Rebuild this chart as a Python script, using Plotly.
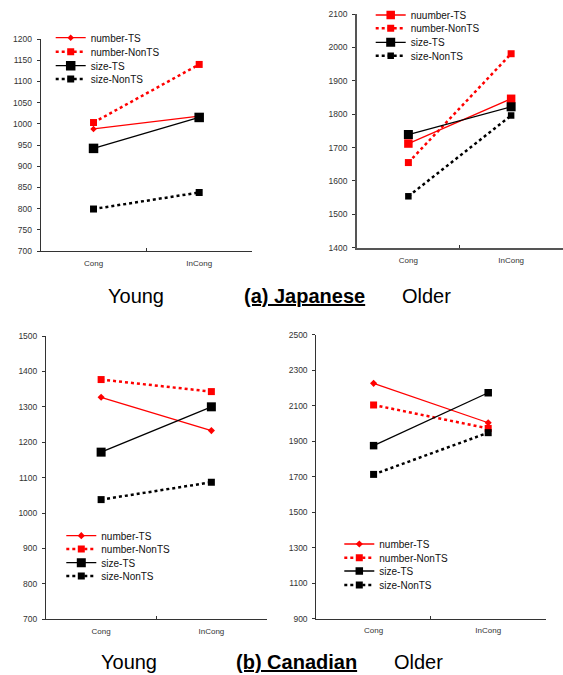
import plotly.graph_objects as go

W, H = 563, 675

categories = ["Cong", "InCong"]
series_names = ["number-TS", "number-NonTS", "size-TS", "size-NonTS"]
series_names_jp_older = ["nuumber-TS", "number-NonTS", "size-TS", "size-NonTS"]

# (a) Japanese - Young
jp_young_number_ts = [988, 1018]
jp_young_number_nonts = [1003, 1140]
jp_young_size_ts = [942, 1015]
jp_young_size_nonts = [799, 838]

# (a) Japanese - Older
jp_older_number_ts = [1712, 1846]
jp_older_number_nonts = [1655, 1981]
jp_older_size_ts = [1739, 1822]
jp_older_size_nonts = [1554, 1796]

# (b) Canadian - Young
ca_young_number_ts = [1327, 1233]
ca_young_number_nonts = [1377, 1343]
ca_young_size_ts = [1172, 1300]
ca_young_size_nonts = [1038, 1087]

# (b) Canadian - Older
ca_older_number_ts = [2226, 2004]
ca_older_number_nonts = [2104, 1972]
ca_older_size_ts = [1875, 2173]
ca_older_size_nonts = [1713, 1948]

y_ranges = [[700, 1200], [1400, 2100], [700, 1500], [900, 2500]]
y_dticks = [50, 100, 100, 200]

RED = "#FF0000"
BLACK = "#000000"


def px_x(p):
    return p / W


def px_y(p):
    return 1 - p / H


# panel plot areas in pixels: (x0, x1, ytop, ybottom)
panels = [
    (40.7, 252.0, 39.0, 251.0),
    (357.0, 562.5, 14.0, 247.7),
    (46.0, 266.5, 336.0, 619.3),
    (316.3, 545.5, 334.7, 618.7),
]
axis_styles = [("#333", 1), ("#555", 1.6), ("#333", 1), ("#333", 1)]

# legend rows: (line start x, [row center y...])
legend_rows = [
    (57.7, [37.7, 51.7, 65.7, 79.0]),
    (377.7, [15.0, 28.3, 42.3, 55.7]),
    (68.3, [535.7, 549.0, 562.7, 576.0]),
    (346.3, [544.0, 557.7, 571.0, 585.0]),
]

data = [
    [jp_young_number_ts, jp_young_number_nonts, jp_young_size_ts, jp_young_size_nonts],
    [jp_older_number_ts, jp_older_number_nonts, jp_older_size_ts, jp_older_size_nonts],
    [ca_young_number_ts, ca_young_number_nonts, ca_young_size_ts, ca_young_size_nonts],
    [ca_older_number_ts, ca_older_number_nonts, ca_older_size_ts, ca_older_size_nonts],
]

# marker styles per panel: (symbol, size) for each series
marker_specs = [
    [("diamond", 5), ("square", 7), ("square", 9.5), ("square", 7)],
    [("square", 8.5), ("square", 7), ("square", 9), ("square", 6.5)],
    [("diamond", 5.5), ("square", 7), ("square", 9), ("square", 7)],
    [("diamond", 5.5), ("square", 7), ("square", 7.5), ("square", 7)],
]
colors = [RED, RED, BLACK, BLACK]
dashes = ["solid", "dot", "solid", "dot"]
widths = [1.3, 2.5, 1.3, 2.5]

fig = go.Figure()
layout = dict(
    width=W, height=H,
    margin=dict(l=0, r=0, t=0, b=0, autoexpand=False),
    paper_bgcolor="white", plot_bgcolor="white",
    font=dict(family="Liberation Sans, Arial, sans-serif", color="#222"),
    showlegend=True,
)

leg_idx = 0
for p in range(4):
    xa = "x" if p == 0 else f"x{p+1}"
    ya = "y" if p == 0 else f"y{p+1}"
    names = series_names_jp_older if p == 1 else series_names
    lx, rows = legend_rows[p]
    for s in range(4):
        leg_idx += 1
        lname = "legend" if leg_idx == 1 else f"legend{leg_idx}"
        sym, size = marker_specs[p][s]
        fig.add_trace(go.Scatter(
            x=categories, y=data[p][s], name=names[s],
            mode="lines+markers",
            line=dict(color=colors[s], width=widths[s], dash=dashes[s]),
            marker=dict(symbol=sym, size=size, color=colors[s],
                        line=dict(width=0)),
            xaxis=xa, yaxis=ya, legend=lname,
            cliponaxis=False,
        ))
        layout[lname] = dict(
            x=px_x(lx - 7), xanchor="left",
            y=px_y(rows[s]), yanchor="middle",
            bgcolor="rgba(0,0,0,0)", borderwidth=0,
            font=dict(size=10, color="#111", family="Liberation Sans, Arial, sans-serif"),
            itemwidth=30, tracegroupgap=0,
        )

    x0, x1, yt, yb = panels[p]
    lc, lw = axis_styles[p]
    xkey = "xaxis" if p == 0 else f"xaxis{p+1}"
    ykey = "yaxis" if p == 0 else f"yaxis{p+1}"
    layout[xkey] = dict(
        domain=[px_x(x0), px_x(x1)], anchor=ya,
        type="category", range=[-0.5, 1.5],
        showline=True, linecolor=lc, linewidth=lw,
        ticks="inside", tickson="boundaries", ticklen=3, tickcolor="#333",
        showgrid=False, zeroline=False,
        tickfont=dict(size=8, color="#333"),
        ticklabelstandoff=4,
        fixedrange=True,
    )
    layout[ykey] = dict(
        domain=[px_y(yb), px_y(yt)], anchor=xa,
        range=y_ranges[p], dtick=y_dticks[p], tick0=y_ranges[p][0],
        showline=True, linecolor=lc, linewidth=lw,
        ticks="outside", ticklen=3, tickcolor="#333",
        showgrid=False, zeroline=False,
        tickfont=dict(size=8.5, color="#333"),
        ticklabelstandoff=3,
        fixedrange=True,
    )

annos = [
    ("Young", 136, 296),
    ("<u><b>(a) Japanese</b></u>", 304, 296),
    ("Older", 426, 296),
    ("Young", 128.5, 662),
    ("<u><b>(b) Canadian</b></u>", 296, 662),
    ("Older", 418, 662),
]
layout["annotations"] = [
    dict(text=t, x=px_x(x), y=px_y(y), xref="paper", yref="paper",
         xanchor="center", yanchor="middle", showarrow=False,
         font=dict(size=20, color="#000", family="Liberation Sans, Arial, sans-serif"))
    for t, x, y in annos
]

fig.update_layout(**layout)
fig.write_html(
    "out.html",
    config={"displayModeBar": False},
    post_script="document.body.style.margin='0';document.body.style.overflow='hidden';",
)
